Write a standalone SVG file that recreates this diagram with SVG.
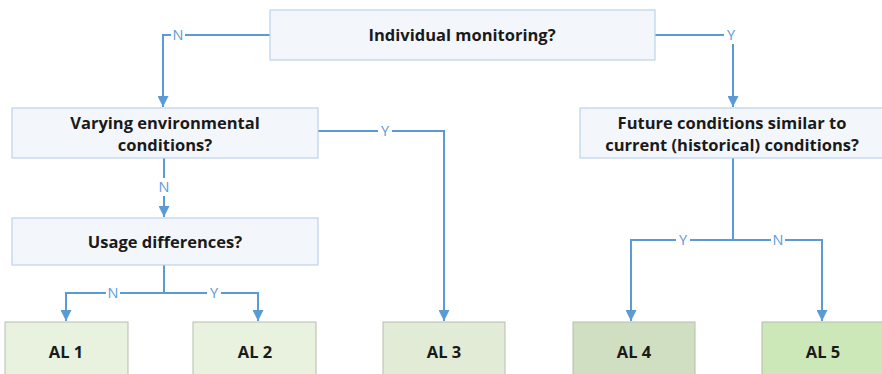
<svg xmlns="http://www.w3.org/2000/svg" width="882" height="374" viewBox="0 0 882 374">
  <defs>
    <marker id="arrow" viewBox="0 0 10 10" refX="10" refY="5" markerWidth="11" markerHeight="11" markerUnits="userSpaceOnUse" orient="auto">
      <path d="M0,0 L10,5 L0,10 z" fill="#5b9bd5"/>
    </marker>
  </defs>
  <style>
    .q { fill: #f3f7fc; stroke: #bcd3ec; stroke-width: 1.2; }
    .al { stroke: #b5bdae; stroke-width: 1; }
    .t { font-family: "Open Sans", "Liberation Sans", sans-serif; font-weight: bold; font-size: 16.5px; fill: #1a1a1a; text-anchor: middle; }
    .lbl { font-family: "Open Sans", "Liberation Sans", sans-serif; font-size: 14.5px; fill: #5b9bd5; text-anchor: middle; }
    .c { fill: none; stroke: #5b9bd5; stroke-width: 2; }
    .bg { fill: #ffffff; }
  </style>
  <rect width="882" height="374" fill="#ffffff"/>

  <g id="connectors">
    <!-- root -> left (N) -->
    <path class="c" d="M270,35 H163 V107" marker-end="url(#arrow)"/>
    <!-- root -> right (Y) -->
    <path class="c" d="M655,35 H733 V107" marker-end="url(#arrow)"/>
    <!-- varying -> AL3 (Y) -->
    <path class="c" d="M318,131 H444 V321" marker-end="url(#arrow)"/>
    <!-- varying -> usage (N) -->
    <path class="c" d="M164,158 V217" marker-end="url(#arrow)"/>
    <!-- usage -> AL1 / AL2 -->
    <path class="c" d="M164,265 V293"/>
    <path class="c" d="M164,293 H66 V321" marker-end="url(#arrow)"/>
    <path class="c" d="M164,293 H258 V321" marker-end="url(#arrow)"/>
    <!-- future -> AL4 / AL5 -->
    <path class="c" d="M733,158 V240"/>
    <path class="c" d="M733,240 H631 V321" marker-end="url(#arrow)"/>
    <path class="c" d="M733,240 H822 V321" marker-end="url(#arrow)"/>
    <!-- branch labels -->
    <rect class="bg" x="171" y="26" width="14" height="18"/>
    <text class="lbl" x="178" y="40">N</text>
    <rect class="bg" x="724" y="26" width="14" height="18"/>
    <text class="lbl" x="731" y="40">Y</text>
    <rect class="bg" x="378" y="122" width="14" height="18"/>
    <text class="lbl" x="385" y="136">Y</text>
    <rect class="bg" x="156" y="178" width="16" height="18"/>
    <text class="lbl" x="164" y="192">N</text>
    <rect class="bg" x="106" y="284" width="14" height="18"/>
    <text class="lbl" x="113" y="298">N</text>
    <rect class="bg" x="207" y="284" width="14" height="18"/>
    <text class="lbl" x="214" y="298">Y</text>
    <rect class="bg" x="676" y="231" width="14" height="18"/>
    <text class="lbl" x="683" y="245">Y</text>
    <rect class="bg" x="771" y="231" width="14" height="18"/>
    <text class="lbl" x="778" y="245">N</text>
  </g>

  <g id="individual-monitoring">
    <rect class="q" x="270" y="10" width="385" height="50"/>
    <text class="t" x="462" y="41">Individual monitoring?</text>
  </g>

  <g id="varying-conditions">
    <rect class="q" x="12" y="108" width="306" height="50"/>
    <text class="t" x="165" y="129">Varying environmental</text>
    <text class="t" x="165" y="151">conditions?</text>
  </g>

  <g id="usage-differences">
    <rect class="q" x="12" y="218" width="306" height="47"/>
    <text class="t" x="165" y="248">Usage differences?</text>
  </g>

  <g id="future-conditions">
    <rect class="q" x="580" y="108" width="304" height="50"/>
    <text class="t" x="732" y="129">Future conditions similar to</text>
    <text class="t" x="732" y="151">current (historical) conditions?</text>
  </g>

  <g id="al1">
    <rect class="al" x="5" y="322" width="123" height="56" fill="#e8f2df"/>
    <text class="t" x="66" y="358">AL 1</text>
  </g>
  <g id="al2">
    <rect class="al" x="193" y="322" width="123" height="56" fill="#e8f2df"/>
    <text class="t" x="255" y="358">AL 2</text>
  </g>
  <g id="al3">
    <rect class="al" x="383" y="322" width="122" height="56" fill="#e1ebd6"/>
    <text class="t" x="444" y="358">AL 3</text>
  </g>
  <g id="al4">
    <rect class="al" x="573" y="322" width="122" height="56" fill="#d0dfc1"/>
    <text class="t" x="634" y="358">AL 4</text>
  </g>
  <g id="al5">
    <rect class="al" x="762" y="322" width="124" height="56" fill="#cce7b8"/>
    <text class="t" x="823" y="358">AL 5</text>
  </g>
</svg>
